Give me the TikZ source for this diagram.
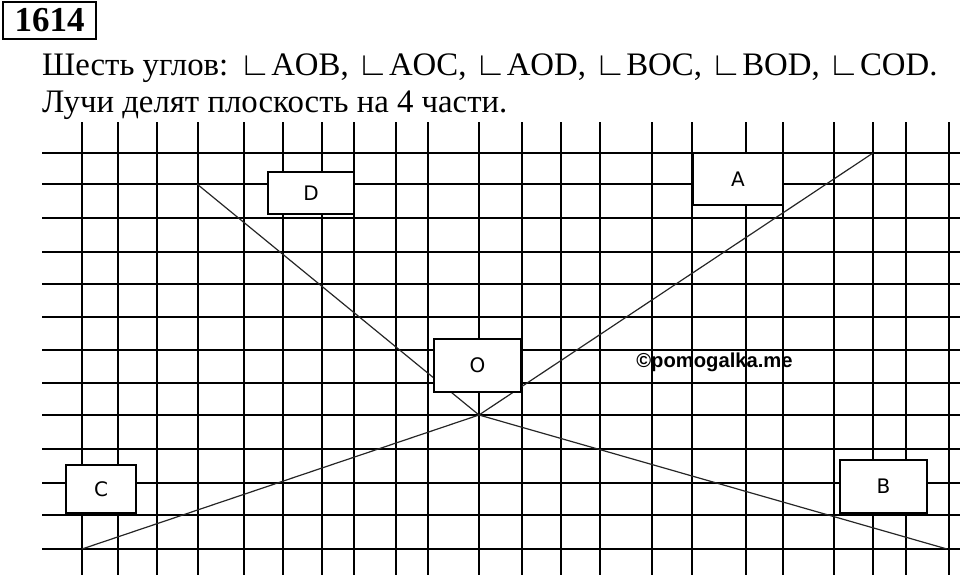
\documentclass[tikz,border=0pt]{standalone}
\usepackage{fontspec}
\setmainfont{Liberation Serif}
\newfontfamily\labelfont{DejaVu Sans}
\newfontfamily\markfont{Liberation Sans}
\begin{document}
\begin{tikzpicture}[x=1pt,y=-1pt,
  box/.style={draw,fill=white,line width=2pt,inner sep=0pt,font=\labelfont\fontsize{20}{20}\selectfont},
  ray/.style={line width=1.2pt,black!85},
  grid line/.style={line width=1.8pt}]
\useasboundingbox (0,0) rectangle (960,575);
\node[draw,line width=2.5pt,minimum width=93pt,minimum height=37pt,inner sep=0pt,font=\bfseries\fontsize{35}{35}\selectfont] (num) at (49.5,20.5) {1614};
\node[anchor=base west,inner sep=0pt,font=\fontsize{32.8}{32.8}\selectfont] (line1) at (42,75.5) {Шесть углов: ∟AOB, ∟AOC, ∟AOD, ∟BOC, ∟BOD, ∟COD.};
\node[anchor=base west,inner sep=0pt,font=\fontsize{32.8}{32.8}\selectfont] (line2) at (42,113) {Лучи делят плоскость на 4 части.};
\foreach \x in {82,118,157,198,244,283,322,354,396,428,479,522,561,600,652,692,746,783,834,873,906,949}
  \draw[grid line] (\x,122)--(\x,575);
\foreach \y in {153,184,218,252,284,317,350,383,415,449,483,515,549}
  \draw[grid line] (42,\y)--(960,\y);
\coordinate (O) at (479,415);
\coordinate (A) at (873,153);
\coordinate (B) at (947,549);
\coordinate (C) at (82,549);
\coordinate (D) at (197,184);
\draw[ray] (O)--(A);
\draw[ray] (O)--(B);
\draw[ray] (O)--(C);
\draw[ray] (O)--(D);
\node[box,minimum width=86pt,minimum height=42pt] (boxD) at (311,193) {D};
\node[box,minimum width=90pt,minimum height=52pt] (boxA) at (738,179) {A};
\node[box,minimum width=87pt,minimum height=53pt] (boxO) at (477.5,365.5) {O};
\node[box,minimum width=70pt,minimum height=48pt] (boxC) at (101,489) {C};
\node[box,minimum width=87pt,minimum height=53pt] (boxB) at (883.5,486.5) {B};
\node[font=\markfont\bfseries\fontsize{20.2}{20.2}\selectfont,inner sep=0pt] (mark) at (714.5,362) {©pomogalka.me};
\end{tikzpicture}
\end{document}
